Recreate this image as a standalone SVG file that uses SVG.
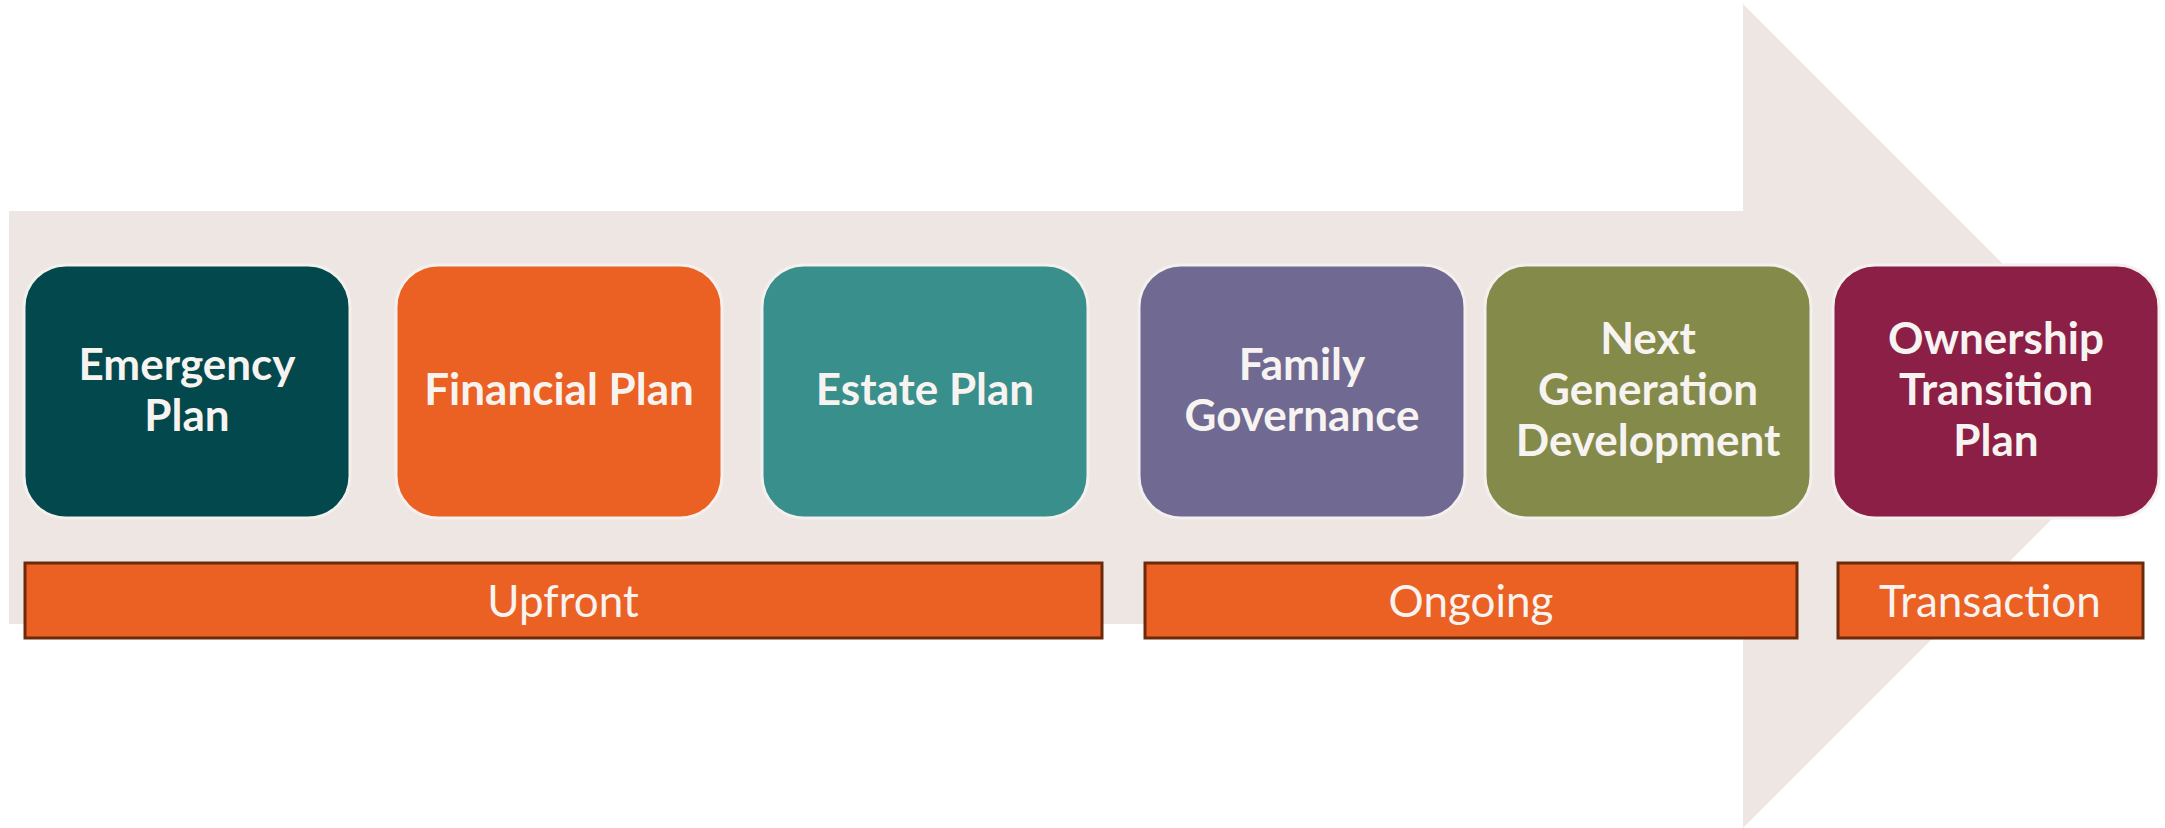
<svg xmlns="http://www.w3.org/2000/svg" width="2165" height="828" viewBox="0 0 2165 828">
  <style>
    .node { stroke: #F4F0ED; stroke-width: 3; }
    .ntext { font-family: Lato, "Open Sans", "Liberation Sans", sans-serif; font-weight: bold; font-size: 44px; fill: #F7F3F0; text-anchor: middle; }
    .bar { fill: #EB6123; stroke: #6B2A0C; stroke-width: 3; }
    .btext { font-family: Lato, "Open Sans", "Liberation Sans", sans-serif; font-size: 44px; fill: #F7F3F0; text-anchor: middle; }
  </style>
  <rect width="2165" height="828" fill="#FFFFFF"/>
  <g id="arrow">
    <polygon points="9,211 1743,211 1743,4 2155,416 1743,828 1743,624 9,624" fill="#EEE6E3"/>
  </g>
  <g id="connectors"></g>
  <g id="node-emergency">
    <rect class="node" x="24" y="265" width="326" height="253" rx="42" fill="#03484C"/>
    <text class="ntext" x="187" y="380">Emergency</text>
    <text class="ntext" x="187" y="431">Plan</text>
  </g>
  <g id="node-financial">
    <rect class="node" x="396" y="265" width="326" height="253" rx="42" fill="#EB6123"/>
    <text class="ntext" x="559" y="405">Financial Plan</text>
  </g>
  <g id="node-estate">
    <rect class="node" x="762" y="265" width="326" height="253" rx="42" fill="#388F8B"/>
    <text class="ntext" x="925" y="405">Estate Plan</text>
  </g>
  <g id="node-family">
    <rect class="node" x="1139" y="265" width="326" height="253" rx="42" fill="#706A92"/>
    <text class="ntext" x="1302" y="380">Family</text>
    <text class="ntext" x="1302" y="431">Governance</text>
  </g>
  <g id="node-nextgen">
    <rect class="node" x="1485" y="265" width="326" height="253" rx="42" fill="#848A4A"/>
    <text class="ntext" x="1648" y="354">Next</text>
    <text class="ntext" x="1648" y="405">Generation</text>
    <text class="ntext" x="1648" y="456">Development</text>
  </g>
  <g id="node-ownership">
    <rect class="node" x="1833" y="265" width="326" height="253" rx="42" fill="#8B1F46"/>
    <text class="ntext" x="1996" y="354">Ownership</text>
    <text class="ntext" x="1996" y="405">Transition</text>
    <text class="ntext" x="1996" y="456">Plan</text>
  </g>
  <g id="bar-upfront">
    <rect class="bar" x="25" y="563" width="1077" height="75"/>
    <text class="btext" x="563" y="617">Upfront</text>
  </g>
  <g id="bar-ongoing">
    <rect class="bar" x="1145" y="563" width="652" height="75"/>
    <text class="btext" x="1471" y="617">Ongoing</text>
  </g>
  <g id="bar-transaction">
    <rect class="bar" x="1838" y="563" width="305" height="75"/>
    <text class="btext" x="1990" y="617">Transaction</text>
  </g>
</svg>
